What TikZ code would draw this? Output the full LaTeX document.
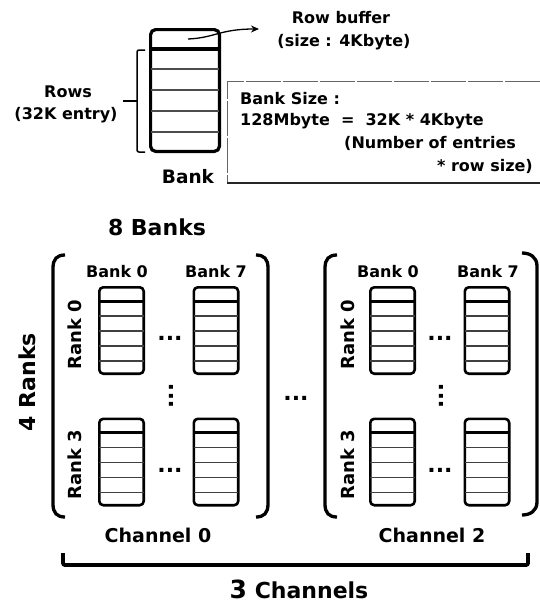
\documentclass[tikz,border=0pt]{standalone}
\usepackage{fontspec}
\setmainfont{DejaVu Sans}
\usetikzlibrary{arrows.meta}
\newcommand{\sbankat}[3]{%
  \node[sbank] (#1) at (#2,#3) {};
  \foreach \k in {28.7,43.7,58.7,73.7}
    \draw[thinrow] ([yshift=-\k pt]#1.north west) -- ([yshift=-\k pt]#1.north east);
  \draw[seprow] ([yshift=-14pt]#1.north west) -- ([yshift=-14pt]#1.north east);
}
\begin{document}
\begin{tikzpicture}[x=1pt,y=-1pt,
  bigbank/.style={draw, line width=3.2pt, rounded corners=5pt, minimum width=68.8pt, minimum height=121.8pt, inner sep=0pt, outer sep=0pt},
  sbank/.style={draw, line width=2.6pt, rounded corners=4pt, minimum width=44.4pt, minimum height=86.4pt, inner sep=0pt, outer sep=0pt},
  seprow/.style={line width=3pt},
  thinrow/.style={line width=1.1pt, black!75},
  txt/.style={font=\bfseries\fontsize{16}{19}\selectfont, inner sep=0pt},
  ranktxt/.style={font=\bfseries\fontsize{18}{21}\selectfont, inner sep=0pt, rotate=90},
  chtxt/.style={font=\bfseries\fontsize{19}{22}\selectfont, inner sep=0pt},
  bigtxt/.style={font=\bfseries\fontsize{22}{26}\selectfont, inner sep=0pt},
  dots/.style={font=\bfseries\fontsize{22}{26}\selectfont, inner sep=0pt, anchor=base},
  paren/.style={line width=3.3pt},
  boxline/.style={line width=1pt, black!60, dash pattern=on 35pt off 2pt},
]
\useasboundingbox (0,0) rectangle (540,605);

% ---------- top: single bank ----------
\node[bigbank] (tb) at (185,90.5) {};
\foreach \k in {39.4,60.4,81.4,102.4}
  \draw[line width=1.3pt, black!70] ([yshift=-\k pt]tb.north west) -- ([yshift=-\k pt]tb.north east);
\draw[line width=3.2pt] ([yshift=-19.4pt]tb.north west) -- ([yshift=-19.4pt]tb.north east);
\node[txt, font=\bfseries\fontsize{18.5}{22}\selectfont] (banklbl) at (188,177) {Bank};

% row buffer arrow
\coordinate (rbstart) at (188,39);
\coordinate (rbtip) at (259,29);
\draw[line width=1.3pt, -{Stealth[length=8pt,width=7pt]}] (rbstart) .. controls (214,38) and (220,29) .. (rbtip);
\node[txt] (rb1) at (341,18) {Row buffer};
\node[txt] (rb2) at (344,42) {(size : 4Kbyte)};

% rows brace
\draw[line width=1.5pt, rounded corners=2pt] (145,50) -- (137,50) -- (137,152) -- (145,152);
\coordinate (bracetip) at (123,101);
\draw[line width=1.5pt] (bracetip) -- (137,101);
\node[txt] (rows1) at (68,92) {Rows};
\node[txt] (rows2) at (66,115) {(32K entry)};

% dashed info box
\draw[boxline] (540,81) -- (227,81) -- (227,183);
\draw[line width=1.2pt, black!85] (227,183) -- (540,183);
\node[txt, anchor=west] (bs1) at (240,99) {Bank Size :};
\node[txt, anchor=west] (bs2) at (240,121) {128Mbyte\ \ =\ \ 32K * 4Kbyte};
\node[txt, anchor=west] (bs3) at (344,143) {(Number of entries};
\node[txt, anchor=east] (bs4) at (533,166) {* row size)};

% ---------- bottom: channels ----------
\node[bigtxt] (eightb) at (157,227) {8 Banks};
\node[bigtxt, rotate=90] (fourr) at (27,382) {4 Ranks};

% channel 0
\draw[paren] (65,255) .. controls (57,255) and (53,259) .. (53,268) -- (53,504) .. controls (53,513) and (57,517) .. (65,517);
\draw[paren] (256,255) .. controls (264,255) and (268,259) .. (268,268) -- (268,504) .. controls (268,513) and (264,517) .. (256,517);
\node[txt] (c0b0) at (117,272) {Bank 0};
\node[txt] (c0b7) at (216,272) {Bank 7};
\node[ranktxt] (c0r0) at (75,335) {Rank 0};
\node[ranktxt] (c0r3) at (75,465) {Rank 3};
\sbankat{bkA}{121.5}{330.5}
\sbankat{bkB}{216}{330.5}
\sbankat{bkC}{121.5}{462}
\sbankat{bkD}{216}{462}
\node[dots] (c0h1) at (170,340) {...};
\node[dots] (c0h2) at (170,472) {...};
\node[dots, rotate=90] (c0v) at (173,396) {...};
\node[chtxt] (ch0) at (158,535) {Channel 0};

% between channels
\node[dots] (midd) at (296,400) {...};

% channel 2
\draw[paren] (337,255) .. controls (329,255) and (325,259) .. (325,268) -- (325,504) .. controls (325,513) and (329,517) .. (337,517);
\draw[paren] (522,253) .. controls (530,253) and (537,257) .. (537,266) -- (537,502) .. controls (537,511) and (530,515) .. (522,515);
\node[txt] (c2b0) at (388,272) {Bank 0};
\node[txt] (c2b7) at (488,272) {Bank 7};
\node[ranktxt] (c2r0) at (348,335) {Rank 0};
\node[ranktxt] (c2r3) at (348,465) {Rank 3};
\sbankat{bkE}{392.5}{330.5}
\sbankat{bkF}{487}{330.5}
\sbankat{bkG}{392.5}{462}
\sbankat{bkH}{487}{462}
\node[dots] (c2h1) at (440,340) {...};
\node[dots] (c2h2) at (440,472) {...};
\node[dots, rotate=90] (c2v) at (443,396) {...};
\node[chtxt] (ch2) at (432,535) {Channel 2};

% 3 channels bracket
\draw[line width=3.8pt, rounded corners=2pt] (63,553) -- (63,565) -- (528,565) -- (528,553);
\node[inner sep=0pt, anchor=base, font=\bfseries] (threech) at (299,598) {{\fontsize{25}{28}\selectfont 3}{\fontsize{22}{26}\selectfont\ Channels}};
\end{tikzpicture}
\end{document}
